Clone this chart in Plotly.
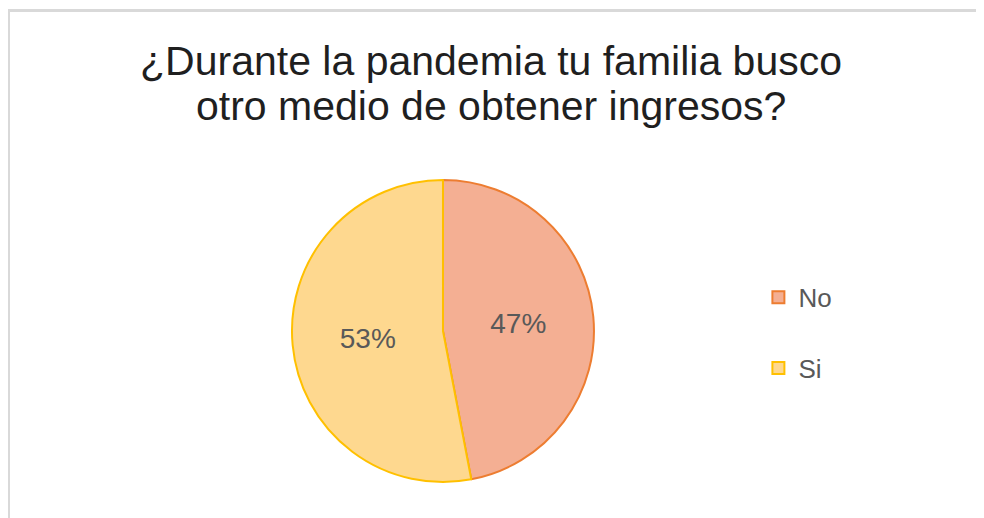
import plotly.graph_objects as go

# datos de la encuesta
labels = ["No", "Si"]
values = [47, 53]
titulo_1 = "¿Durante la pandemia tu familia busco"
titulo_2 = "otro medio de obtener ingresos?"

fill_colors = ["#F4AF93", "#FED88F"]
line_colors = ["#ED7D31", "#FFC000"]

# etiqueta de leyenda con linea extra para separar mas las entradas
legend_labels = [l + "<br>\u00a0" for l in labels]

fuente = "Liberation Sans, Arial"

fig = go.Figure()
fig.add_trace(go.Pie(
    labels=legend_labels,
    values=values,
    sort=False,
    direction="clockwise",
    rotation=0,
    textinfo="percent",
    textposition="inside",
    insidetextorientation="horizontal",
    textfont=dict(size=28, color="#595959", family=fuente),
    marker=dict(colors=fill_colors, line=dict(color=line_colors, width=2)),
    domain=dict(x=[0.2886, 0.5955], y=[0.085, 0.668]),
    hoverinfo="percent",
))

fig.update_layout(
    width=984, height=518,
    margin=dict(l=0, r=0, t=0, b=0),
    paper_bgcolor="white",
    title=dict(
        text=titulo_1,
        x=0.4909, xanchor="center",
        y=0.8977, yanchor="middle",
        font=dict(size=41, color="#1F1F1F", family=fuente),
    ),
    annotations=[
        dict(text=titulo_2, xref="paper", yref="paper",
             x=0.4909, xanchor="center", y=0.8108, yanchor="middle",
             showarrow=False,
             font=dict(size=41, color="#1F1F1F", family=fuente)),
    ],
    legend=dict(
        x=0.7626, xanchor="left",
        y=0.34, yanchor="middle",
        valign="top",
        font=dict(size=26, color="#595959", family=fuente),
    ),
    shapes=[
        # marco gris del grafico
        dict(type="rect", xref="paper", yref="paper",
             x0=0.0005, x1=1.02, y0=-0.05, y1=0.9952,
             line=dict(color="#D9D9D9", width=3), fillcolor="rgba(0,0,0,0)"),
    ],
)

fig.write_html("out.html")
